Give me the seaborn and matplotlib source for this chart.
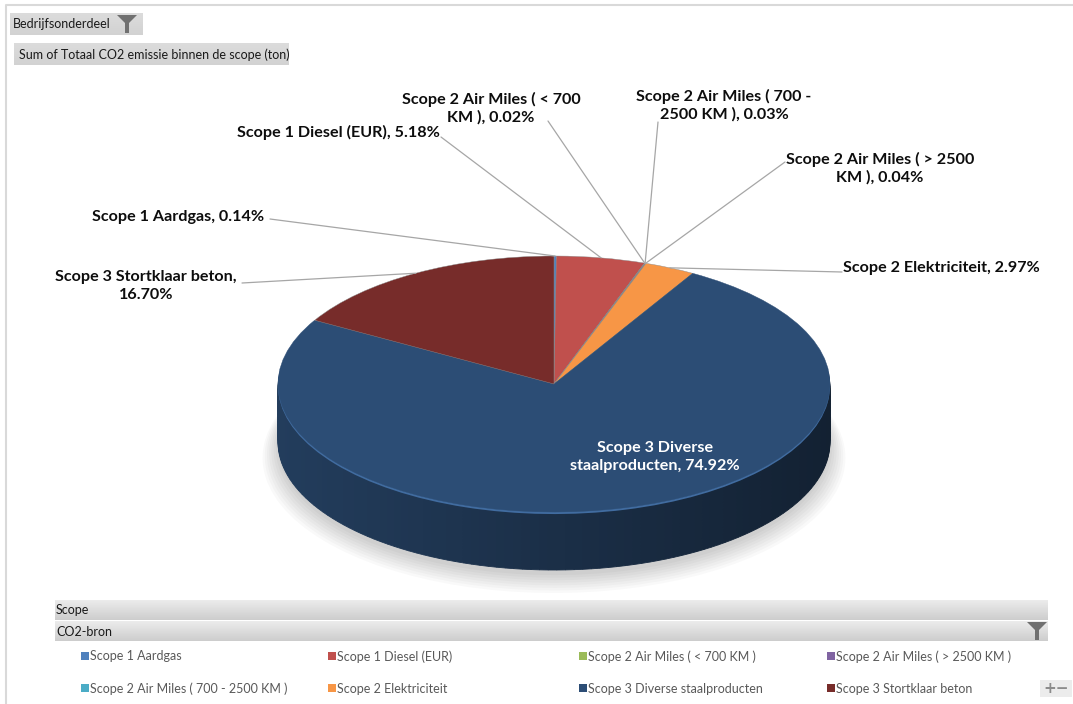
import numpy as np
import matplotlib
matplotlib.use("Agg")
import matplotlib.pyplot as plt
import seaborn as sns
from matplotlib.patches import Rectangle, Polygon
from matplotlib.colors import LinearSegmentedColormap, to_rgb

# CO2 sources, clockwise from 12 o'clock as in the pie
sources = ['Scope 1 Aardgas', 'Scope 1 Diesel (EUR)', 'Scope 2 Air Miles ( < 700 KM )',
           'Scope 2 Air Miles ( 700 - 2500 KM )', 'Scope 2 Air Miles ( > 2500 KM )',
           'Scope 2 Elektriciteit', 'Scope 3 Diverse staalproducten', 'Scope 3 Stortklaar beton']
shares = [0.14, 5.18, 0.02, 0.03, 0.04, 2.97, 74.92, 16.70]
label_names = ['Scope 1 Aardgas', 'Scope 1 Diesel (EUR)', 'Scope 2 Air Miles ( < 700\nKM )',
               'Scope 2 Air Miles ( 700 -\n2500 KM )', 'Scope 2 Air Miles ( > 2500\nKM )',
               'Scope 2 Elektriciteit', 'Scope 3 Diverse\nstaalproducten', 'Scope 3 Stortklaar beton']
label_seps = [', ', ', ', ', ', ', ', ', ', ', ', ', ', ',\n']
colors = ['#4F81BD', '#C0504D', '#9BBB59', '#4BACC6', '#8064A2', '#F79646', '#2C4D75', '#772C2A']
# legend columns (Excel lays the legend out row by row)
legend_cols = [[0, 3], [1, 5], [2, 6], [4, 7]]

sns.set_theme(style="white")
plt.rcParams['font.family'] = ['Lato', 'DejaVu Sans']

W, H = 1073, 704
fig = plt.figure(figsize=(W / 100, H / 100), dpi=100)
fig.patch.set_facecolor('white')


def fpos(x, y):
    return x / W, 1 - y / H


# decoration layer in pixel coordinates
deco = fig.add_axes([0, 0, 1, 1], zorder=0)
deco.axis('off')


def grad_box(x0, x1, y0, y1, top, bottom):
    cm = LinearSegmentedColormap.from_list('g', [top, bottom])
    deco.imshow(np.linspace(0, 1, 60).reshape(-1, 1), cmap=cm, aspect='auto',
                extent=(x0, x1, y1, y0), zorder=1, interpolation='bilinear')


def funnel(x, y, s=1.0):
    pts = [(x, y), (x + 20 * s, y), (x + 12 * s, y + 8 * s), (x + 12 * s, y + 18 * s),
           (x + 8 * s, y + 18 * s), (x + 8 * s, y + 8 * s)]
    deco.add_patch(Polygon(pts, closed=True, facecolor='#707070', edgecolor='none', zorder=3))


deco.plot([6, 6, W], [H, 5, 5], color='#D9D9D9', lw=1.5, zorder=1)

hdr = dict(fontsize=9, color='#1A1A1A', va='center', ha='left', zorder=4)
grad_box(10, 143, 13, 35, '#DCDCDC', '#D2D2D2')
deco.text(13, 24.5, 'Bedrijfsonderdeel', **hdr)
funnel(117, 15, 1.0)
grad_box(14, 289, 43, 65, '#DCDCDC', '#D2D2D2')
deco.text(19, 54.5, 'Sum of Totaal CO2 emissie binnen de scope (ton)', **hdr)

grad_box(55, 1048, 600, 620, '#ECECEC', '#CDCDCD')
deco.text(56, 610.5, 'Scope', **hdr)
grad_box(55, 1048, 621, 641, '#ECECEC', '#CDCDCD')
deco.text(56, 631.5, 'CO2-bron', **hdr)
funnel(1027, 622, 1.0)

deco.add_patch(Rectangle((1040, 680), 32, 17, facecolor='#ECECEC', edgecolor='none', zorder=2))
deco.text(1056, 688.5, '+\u2212', fontsize=11, fontweight='bold', color='#8C8C8C',
          ha='center', va='center', zorder=4, family=['DejaVu Sans'])

deco.set_xlim(0, W)
deco.set_ylim(H, 0)

# pie axes: one x unit = a_px pixels, one y unit = b_px pixels -> tilted ellipse
a_px, b_px = 276, 128
cx, cy = 554, 384
xl, yl = (-1.3, 1.3), (-1.9, 1.3)
rect = [(cx + xl[0] * a_px) / W, (H - cy + yl[0] * b_px) / H,
        (xl[1] - xl[0]) * a_px / W, (yl[1] - yl[0]) * b_px / H]
ax = fig.add_axes(rect, zorder=2)
ax.patch.set_visible(False)
depth = 58 / b_px

pie_kw = dict(startangle=90, counterclock=False)

# soft shadow under the disc
for k in range(8):
    ax.pie(shares, radius=1.0 + 0.008 * k, center=(0, -depth - 0.04 - 0.012 * k),
           colors=['#000000'] * len(shares), wedgeprops=dict(alpha=0.022, linewidth=0), **pie_kw)

# side of the disc: split each slice so the wall can be shaded left to right
sub_vals, sub_cols = [], []
start = 0.0
total = sum(shares)
for v, c in zip(shares, colors):
    n = max(1, int(np.ceil(v * 2)))
    for j in range(n):
        mid = (start + v * (j + 0.5) / n) / total * 2 * np.pi
        f = 0.61 - 0.18 * np.sin(mid)
        sub_vals.append(v / n)
        sub_cols.append(tuple(np.array(to_rgb(c)) * f))
    start += v

for d in np.linspace(depth, 0.03, 40):
    ax.pie(sub_vals, center=(0, -d), colors=sub_cols,
           wedgeprops=dict(linewidth=0.6, antialiased=True), **pie_kw)
    for w, col in zip(ax.patches[-len(sub_vals):], sub_cols):
        w.set_edgecolor(col)

# thin highlight along the front rim
rim_cols = [tuple(np.minimum(np.array(to_rgb(c)) * 1.3 + 0.03, 1)) for c in colors]
ax.pie(shares, center=(0, -0.016), colors=rim_cols, wedgeprops=dict(linewidth=0), **pie_kw)

# top face
wedges, _ = ax.pie(shares, colors=colors, wedgeprops=dict(linewidth=0.3, edgecolor='#8A8A8A'), **pie_kw)
wedges[6].set_edgecolor(colors[6])

ax.set_aspect('auto')
ax.set_xlim(*xl)
ax.set_ylim(*yl)
ax.axis('off')

# data labels (text centre in pixels) and leader-line ends at the text
label_pos = [(178, 217), (338, 132), (491, 108), (724, 105), (880, 168), (941, 268), (655, 457), (146, 286)]
line_ends = [(270, 219), (441, 137), (548, 121), (658, 122), (785, 162), (842, 272), None, (242, 283)]

for i, w in enumerate(wedges):
    txt = f"{label_names[i]}{label_seps[i]}{shares[i]:.2f}%"
    col = 'white' if i == 6 else '#0D0D0D'
    fig.text(*fpos(*label_pos[i]), txt, ha='center', va='center', fontsize=11.6,
             fontweight='bold', color=col, linespacing=1.3, zorder=5)
    if line_ends[i] is not None:
        mid = np.deg2rad((w.theta1 + w.theta2) / 2)
        ax.annotate('', xy=(np.cos(mid), np.sin(mid)), xycoords='data',
                    xytext=fpos(*line_ends[i]), textcoords='figure fraction',
                    arrowprops=dict(arrowstyle='-', color='#A6A6A6', lw=0.9,
                                    shrinkA=0, shrinkB=0), annotation_clip=False)

# legend, one column at a time so the columns sit on a fixed grid
col_x = [81, 328, 579, 827]
for cx_l, idx in zip(col_x, legend_cols):
    leg = fig.legend([wedges[i] for i in idx], [sources[i] for i in idx],
                     loc='upper left', bbox_to_anchor=fpos(cx_l, 650), frameon=False,
                     fontsize=9, labelcolor='#595959', handlelength=0.6, handleheight=0.6,
                     handletextpad=0.12, labelspacing=1.6, borderpad=0, borderaxespad=0)
    for hnd in leg.legend_handles:
        hnd.set_edgecolor('none')

fig.savefig('out.png', dpi=100)
